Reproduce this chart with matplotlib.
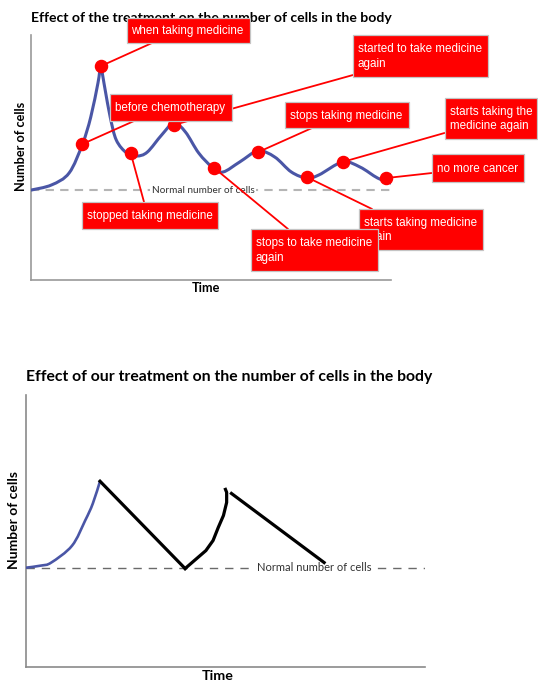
import matplotlib.pyplot as plt
import numpy as np
from matplotlib.path import Path
from matplotlib.patches import PathPatch, Rectangle, ConnectionPatch

W, H = 538, 684

# ---- top chart: cell count over time (time 0-100, cells 0-100) ----
top_time = [0, 5.7, 10.6, 14.3, 16.6, 18.6, 19.4, 20.6, 22.0, 23.7, 26.6, 29.4,
            32.3, 36.3, 39.7, 42.9, 46.6, 50.6, 53.4, 58.0, 63.1, 67.7, 72.3,
            76.6, 80.0, 86.6, 91.4, 96.3, 100]
top_cells = [36.7, 38.8, 43.7, 55.5, 66.5, 80.4, 86.5, 77.6, 66.5, 57.1, 51.8, 50.6,
             52.2, 59.2, 64.1, 60.4, 51.8, 45.7, 44.1, 48.2, 52.7, 50.2, 44.1,
             41.6, 42.9, 48.2, 46.1, 41.6, 39.6]
normal_top = 36.7

event_labels = [
    "when taking medicine",
    "before chemotherapy",
    "stopped taking medicine",
    "started to take medicine\nagain",
    "stops to take medicine\nagain",
    "stops taking medicine",
    "starts taking medicine\nagain",
    "starts taking the\nmedicine again",
    "no more cancer",
]
event_time = [19.4, 14.3, 27.7, 39.7, 50.9, 63.1, 76.6, 86.6, 98.6]
event_cells = [87.3, 55.5, 51.8, 63.3, 45.7, 52.2, 42.0, 48.2, 41.6]

# ---- bottom chart ----
bot_normal = 36.5
growth_time = [0, 3.9, 6.4, 11.6, 14.9, 16.8, 18.6]
growth_cells = [36.5, 37.3, 38.4, 44.6, 53.9, 60.1, 68.3]
drop1_time = [18.6, 39.9]
drop1_cells = [68.3, 36.2]
regrow_time = [39.9, 42.5, 45.1, 46.9, 48.2, 49.5, 50.3, 50.3, 50.0]
regrow_cells = [36.2, 39.5, 42.8, 46.5, 51.3, 55.7, 60.5, 64.2, 65.3]
drop2_time = [51.5, 74.7]
drop2_cells = [63.8, 38.4]

BLUE = "#4a56a6"
RED = "#ff0000"
TITLE_FONT = ["Lato", "DejaVu Sans"]
BOX_FONT = ["Liberation Sans", "DejaVu Sans"]


def px(x, y):
    return x / W, 1 - y / H


def smooth_path(xs, ys):
    pts = np.column_stack([xs, ys]).astype(float)
    ext = np.vstack([pts[0], pts, pts[-1]])
    verts = [pts[0]]
    codes = [Path.MOVETO]
    for i in range(1, len(ext) - 2):
        p0, p1, p2, p3 = ext[i - 1], ext[i], ext[i + 1], ext[i + 2]
        verts += [p1 + (p2 - p0) / 6, p2 - (p3 - p1) / 6, p2]
        codes += [Path.CURVE4] * 3
    return Path(verts, codes)


def setup_axes(rect, spine_color):
    ax = fig.add_axes(rect)
    ax.set_xlim(0, 100)
    ax.set_ylim(0, 100)
    for side in ("top", "right"):
        ax.spines[side].set_visible(False)
    for side in ("left", "bottom"):
        ax.spines[side].set_color(spine_color)
        ax.spines[side].set_linewidth(1.2)
    ax.set_xticks([])
    ax.set_yticks([])
    ax.patch.set_alpha(0)
    return ax


fig = plt.figure(figsize=(W / 100, H / 100), dpi=100)

# ================= top chart =================
ax1 = setup_axes([31 / W, 1 - 280 / H, 360 / W, 245 / H], "#9a9a9a")
ax1.axhline(normal_top, color="#b5b5b5", lw=1.5, dashes=(4, 3), zorder=1)
ax1.text(47.8, normal_top, "Normal number of cells", fontsize=7.2, family=TITLE_FONT,
         color="#333333", ha="center", va="center", zorder=2,
         bbox=dict(boxstyle="square,pad=0.15", fc="white", ec="none"))
ax1.add_patch(PathPatch(smooth_path(top_time, top_cells), fc="none", ec=BLUE,
                        lw=2.2, zorder=3, capstyle="round"))

# label boxes in pixels: (left, top, right, bottom), connector anchor on box
boxes = [
    ((126.5, 18, 250, 43), (152, 43)),
    ((110, 94, 231.5, 121), (134, 121)),
    ((82, 202, 218, 229), (144, 202)),
    ((353, 35, 487.5, 77), (353, 75)),
    ((251, 229, 378, 271), (288, 229)),
    ((285, 102, 408.5, 128), (312, 128)),
    ((359, 209, 482.5, 250), (372, 209)),
    ((444.5, 98, 537, 139), (444.5, 133)),
    ((432, 154, 524, 182), (432, 173)),
]
draw_order = [0, 3, 1, 5, 7, 8, 2, 6, 4]

for i in range(len(event_labels)):
    anchor = boxes[i][1]
    con = ConnectionPatch(xyA=px(*anchor), coordsA=fig.transFigure,
                          xyB=(event_time[i], event_cells[i]), coordsB=ax1.transData,
                          color=RED, lw=1.3, zorder=4, clip_on=False)
    ax1.add_artist(con)
ax1.plot(event_time, event_cells, "o", color=RED, ms=8.7, zorder=6, clip_on=False)

for z, i in enumerate(draw_order):
    (x0, y0, x1, y1), _ = boxes[i]
    fig.add_artist(Rectangle(px(x0, y1), (x1 - x0) / W, (y1 - y0) / H,
                             transform=fig.transFigure, fc=RED, ec="#c4c4c4",
                             lw=0.9, zorder=10 + 2 * z))
    fig.text(*px(x0 + 5, (y0 + y1) / 2 + 0.5), event_labels[i], fontsize=8.4,
             family=BOX_FONT, color="white", ha="left", va="center",
             linespacing=1.3, zorder=11 + 2 * z)

fig.text(*px(31, 18), "Effect of the treatment on the number of cells in the body",
         fontsize=10.1, fontweight="bold", family=TITLE_FONT, ha="left", va="center",
         zorder=1)
fig.text(*px(21.5, 146), "Number of cells", rotation=90, fontsize=9.2,
         fontweight="bold", family=TITLE_FONT, ha="center", va="center")
fig.text(*px(206, 288), "Time", fontsize=9.2, fontweight="bold",
         family=TITLE_FONT, ha="center", va="center")

# ================= bottom chart =================
ax2 = setup_axes([25.7 / W, 1 - 667 / H, 399.5 / W, 272 / H], "#8a8a8a")
ax2.axhline(bot_normal, color="#6a6a6a", lw=1.0, dashes=(6, 5), zorder=1)
ax2.text(72.2, bot_normal, "Normal number of cells", fontsize=8.0, family=TITLE_FONT,
         color="#333333", ha="center", va="center", zorder=2,
         bbox=dict(boxstyle="square,pad=0.15", fc="white", ec="none"))
ax2.add_patch(PathPatch(smooth_path(growth_time, growth_cells), fc="none", ec=BLUE,
                        lw=1.9, zorder=3))
ax2.plot(drop1_time, drop1_cells, color="black", lw=2.3, zorder=4)
ax2.plot(regrow_time, regrow_cells, color="black", lw=2.3, zorder=4,
         solid_joinstyle="round")
ax2.plot(drop2_time, drop2_cells, color="black", lw=2.3, zorder=4)

fig.text(*px(25.7, 377), "Effect of our treatment on the number of cells in the body",
         fontsize=11.3, fontweight="bold", family=TITLE_FONT, ha="left", va="center")
fig.text(*px(14.5, 520), "Number of cells", rotation=90, fontsize=10,
         fontweight="bold", family=TITLE_FONT, ha="center", va="center")
fig.text(*px(218, 676), "Time", fontsize=10.3, fontweight="bold",
         family=TITLE_FONT, ha="center", va="center")

fig.savefig("out.png", dpi=100)
